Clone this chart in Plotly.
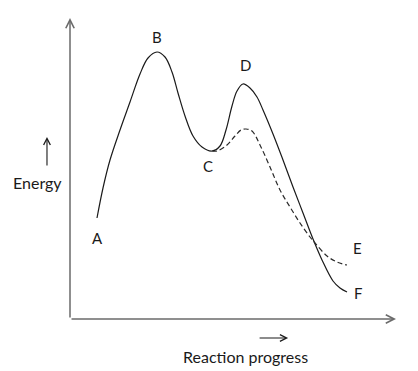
import plotly.graph_objects as go

# Energy profile (arbitrary units): reaction progress vs energy
progress_solid = [27, 33, 40, 50, 60, 70, 78, 87, 95, 102, 108, 115, 123, 132, 142, 150, 156, 162, 167, 173,
                  180, 187, 193, 203, 213, 223, 233, 243, 252, 263, 270, 277]
energy_solid = [101, 131, 159, 189, 217, 245, 261, 267, 262, 247, 226, 203, 183, 172, 168, 173, 189, 213, 228, 235,
                231, 222, 209, 185, 159, 132, 106, 80, 59, 38, 31, 27]

progress_dashed = [142, 147, 157, 165, 171, 176, 182, 190, 200, 210, 220, 230, 240, 245, 257, 267, 277]
energy_dashed = [168, 168, 174, 183, 189, 190, 188, 174, 152, 129, 112, 96, 82, 76, 63, 57, 54]

point_labels = ["A", "B", "C", "D", "E", "F"]
label_x = [27, 87, 138, 175, 287, 288]
label_y = [81, 282, 153, 254, 71, 26]

X_MAX, Y_MAX = 326, 301
FONT = "Lato"
INK = "#1a1a1a"
AXIS = "#6b6b6b"

fig = go.Figure()
fig.add_trace(go.Scatter(x=progress_solid, y=energy_solid, mode="lines",
                         line=dict(color=INK, width=1.2, shape="spline", smoothing=1.0),
                         hoverinfo="skip", showlegend=False))
fig.add_trace(go.Scatter(x=progress_dashed, y=energy_dashed, mode="lines",
                         line=dict(color="#2a2a2a", width=1.2, dash="5px,3px", shape="spline", smoothing=1.0),
                         hoverinfo="skip", showlegend=False))

ann = []
for t, x, y in zip(point_labels, label_x, label_y):
    ann.append(dict(x=x, y=y, text=t, showarrow=False, xref="x", yref="y",
                    xanchor="center", yanchor="middle",
                    font=dict(family=FONT, size=15, color=INK)))

# axes with arrowheads
ann.append(dict(x=X_MAX, y=0, ax=0, ay=0, axref="x", ayref="y", xref="x", yref="y",
                showarrow=True, arrowhead=5, arrowsize=1.1, arrowwidth=1.5, arrowcolor=AXIS,
                text="", standoff=0, startstandoff=0))
ann.append(dict(x=0, y=Y_MAX, ax=0, ay=0, axref="x", ayref="y", xref="x", yref="y",
                showarrow=True, arrowhead=5, arrowsize=1.1, arrowwidth=1.5, arrowcolor=AXIS,
                text="", standoff=0, startstandoff=0))

# axis titles with small arrows (paper coordinates, outside the plot area)
ann.append(dict(x=-0.101, y=0.455, text="Energy", showarrow=False, xref="paper", yref="paper",
                xanchor="center", yanchor="middle",
                font=dict(family=FONT, size=16, color=INK)))
ann.append(dict(x=-0.0706, y=0.605, ax=0, ay=30, xref="paper", yref="paper",
                showarrow=True, arrowhead=5, arrowsize=1.2, arrowwidth=1.1, arrowcolor=INK,
                text="", standoff=0, startstandoff=0))
ann.append(dict(x=0.537, y=-0.126, text="Reaction progress", showarrow=False, xref="paper", yref="paper",
                xanchor="center", yanchor="middle",
                font=dict(family=FONT, size=16, color=INK)))
ann.append(dict(x=0.669, y=-0.063, ax=-30, ay=0, xref="paper", yref="paper",
                showarrow=True, arrowhead=5, arrowsize=1.2, arrowwidth=1.1, arrowcolor=INK,
                text="", standoff=0, startstandoff=0))

fig.update_layout(
    width=410, height=363,
    margin=dict(l=62, r=22, t=10, b=52),
    paper_bgcolor="white", plot_bgcolor="white",
    xaxis=dict(range=[0, X_MAX], visible=False, fixedrange=True),
    yaxis=dict(range=[0, Y_MAX], visible=False, fixedrange=True),
    annotations=ann,
    showlegend=False,
)
fig.write_html("out.html")
